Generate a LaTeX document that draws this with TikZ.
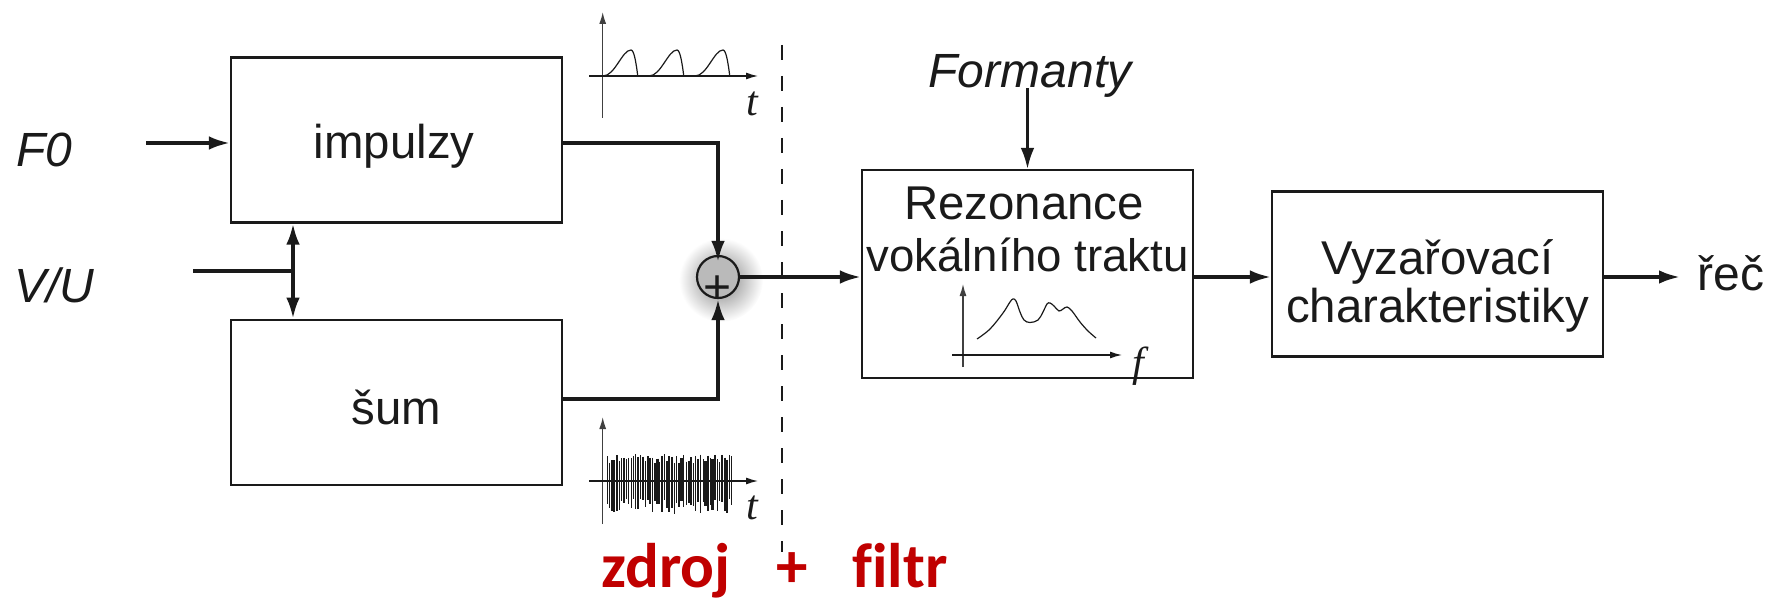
\documentclass[tikz,border=0pt]{standalone}
\usepackage{fontspec}
\setmainfont{Liberation Sans}
\newfontfamily\plotfont{Liberation Serif}
\newfontfamily\notefont[Ligatures=NoCommon]{Carlito}
\usetikzlibrary{arrows.meta,positioning,calc}
\definecolor{ink}{HTML}{1A1A1A}
\definecolor{notered}{HTML}{C00000}
\definecolor{axisgray}{HTML}{404040}

\begin{document}
\begin{tikzpicture}[
  x=0.5pt,y=-0.5pt,
  every node/.style={inner sep=0pt,text=ink},
  blockbox/.style={draw=ink,line width=1.1pt,minimum width=165.5pt,minimum height=82.5pt},
  blocktext/.style={align=center,font=\fontsize{23.7}{24.3}\selectfont},
  label/.style={anchor=base west,font=\fontsize{24}{25}\selectfont\itshape},
  arr/.style={-{Latex[length=10.5pt,width=6.8pt]},line width=1.75pt,color=ink},
  axis/.style={-{Latex[length=6pt,width=3.5pt]},line width=.65pt,color=ink},
  curve/.style={line width=.6pt,color=ink},
  axlabel/.style={font=\fontsize{21}{21}\plotfont\itshape},
  note/.style={anchor=base west,text=notered,font=\fontsize{31.5}{32}\notefont\bfseries}
]
\useasboundingbox (0,0) rectangle (1768,599);
% halo behind the adder
\shade[inner color=black!50,outer color=white] (721,280) circle (42);
% blocks
\node[blockbox] (impulzy) at (396.5,140) {};
\node[blocktext] (impulzytext) at ([xshift=-1.2pt,yshift=-3pt]impulzy.center) {impulzy};
\node[blockbox,below=47.5pt of impulzy] (noise) {};
\node[blocktext] (noisetext) at ([yshift=-2.5pt]noise.center) {šum};
\node[blockbox,minimum height=104pt] (rez) at (1027.5,274) {};
\node[blocktext,font=\fontsize{23.7}{26}\selectfont,below=9pt of rez.north] (reztext) {Rezonance\hspace*{3.4pt}\\\fontsize{22.8}{26}\selectfont vokálního traktu};
\node[blockbox,right=38.4pt of rez] (vyz) {};
\node[blocktext] (vyztext) at ([yshift=-6pt]vyz.center) {Vyzařovací\\charakteristiky};
\node[circle,draw=ink,line width=1.1pt,fill=black!27,minimum size=21pt] (sum) at (718,277) {};
\node[font=\fontsize{24}{25}\selectfont] (plussign) at ([yshift=-6.5pt]sum.center) {+};
% texts
\node[label] (f0) at (16,167) {F0};
\node[label] (vu) at (14,302) {V/U};
\node[label,anchor=base] (formanty) at (1030,88) {Formanty};
\node[anchor=base west,font=\fontsize{24}{25}\selectfont] (rec) at (1697,290) {řeč};
\node[note] (zdroj) at (601,587) {zdroj};
\node[note] (plus) at (776,587) {+};
\node[note] (filtr) at (852,587) {filtr};
% free ends
\coordinate (f0out) at (146,143);
\coordinate (vuout) at (193,271);
\coordinate (vujoin) at (293,271);
\coordinate (noiseout) at (562,399);
\coordinate (dashtop) at (782,45);
\coordinate (dashend) at (782,552);
% connectors
\draw[arr] (f0out) -- (f0out -| impulzy.west);
\draw[line width=1.75pt,color=ink] (vuout) -- (vujoin);
\draw[arr,{Latex[length=10.5pt,width=6.8pt]}-{Latex[length=10.5pt,width=6.8pt]}] (vujoin |- impulzy.south) -- (vujoin |- noise.north);
\draw[arr,shorten >=-3.5pt] (f0out -| impulzy.east) -| (sum.north);
\draw[arr] (noiseout) -| (sum.south);
\draw[arr] (sum.east) -- (sum.east -| rez.west);
\draw[arr] (rez.east |- sum.east) -- (vyz.west |- sum.east);
\draw[arr,shorten >=8.5pt] (vyz.east |- sum.east) -- (rec.west |- sum.east);
\draw[arr,line width=1.3pt,shorten <=-5pt] (formanty.south -| rez.north) -- (rez.north);
\draw[line width=1.2pt,color=ink,dash pattern=on 7.5pt off 8pt] (dashtop) -- (dashend);
% pulses
\draw[axis,color=axisgray] (602.7,118) -- (602.7,12);
\draw[axis] (589,76) -- (758,76);
\foreach \s in {0,46,92}{
  \draw[curve] (603+\s,76) .. controls (615+\s,76) and (622+\s,50) .. (631+\s,50) .. controls (634+\s,50) and (636+\s,62) .. (637.7+\s,75.5);
}
\node[axlabel] (tone) at (752,104) {t};
% noise
\draw[axis,color=axisgray] (602.7,524) -- (602.7,417);
\pgfmathsetseed{42}
\foreach \x in {607,609.4,...,733}{
  \pgfmathsetmacro{\up}{454+9*rnd}
  \pgfmathsetmacro{\down}{499+15*rnd}
  \pgfmathsetmacro{\lw}{.3+1.0*rnd}
  \draw[line width=\lw pt,color=ink] (\x,\up) -- (\x,\down);
}
\draw[axis] (589,481) -- (758,481);
\node[axlabel] (ttwo) at (752,508) {t};
% resonance curve
\draw[axis,color=axisgray] (963,367) -- (963,284);
\draw[axis] (952,355) -- (1122,355);
\draw[curve] plot[smooth,tension=.6] coordinates {(977,339) (990,329) (1003,313) (1010,302) (1013,299) (1016,301) (1020,312) (1024,320) (1030,322.5) (1038,320) (1043,312) (1047,304) (1050,303) (1054,306) (1059,311) (1063,309) (1067,307) (1072,311) (1080,322) (1088,331) (1096,338)};
\node[axlabel] (ftext) at (1138,366) {f};
\end{tikzpicture}
\end{document}
